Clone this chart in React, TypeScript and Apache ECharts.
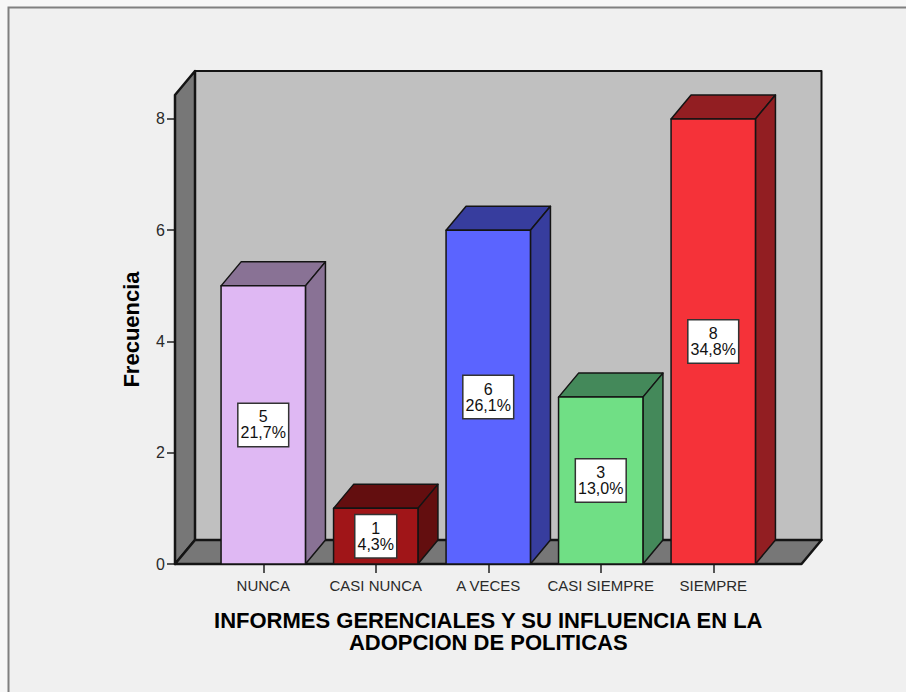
import React, { useEffect, useRef } from "react";
import * as echarts from "echarts";

const categories = ["NUNCA", "CASI NUNCA", "A VECES", "CASI SIEMPRE", "SIEMPRE"];
const frequencies = [5, 1, 6, 3, 8];
const percents = ["21,7%", "4,3%", "26,1%", "13,0%", "34,8%"];
const frontColors = ["#DFB8F3", "#A01518", "#5B64FF", "#70DF85", "#F53239"];
const shadeColors = ["#897295", "#630E0F", "#373D9E", "#44895A", "#921E22"];
const yTicks = [0, 2, 4, 6, 8];
const yMax = 8.431;

const DX = 20;
const DY = -24;
const WALL_PAD = 32;
const LINE = "#141414";

function poly(points: number[][], fill: string, lineWidth = 1.5) {
  return {
    type: "polygon",
    shape: { points },
    style: { fill, stroke: LINE, lineWidth, lineJoin: "round" },
  };
}

export default function App() {
  const ref = useRef<HTMLDivElement>(null);
  useEffect(() => {
    const chart = echarts.init(ref.current!, undefined, { renderer: "svg" });
    chart.setOption({
      animation: false,
      backgroundColor: "#f7f7f7",
      graphic: [
        {
          type: "rect",
          z: -10,
          silent: true,
          shape: { x: 8.5, y: 7.5, width: 1200, height: 1200 },
          style: { fill: "#f0f0f0", stroke: "#808080", lineWidth: 2 },
        },
      ],
      grid: { left: 207, top: 95, width: 562.5, height: 469, containLabel: false },
      xAxis: {
        type: "category",
        data: categories,
        axisLine: { show: false },
        axisTick: { show: true, alignWithLabel: true, length: 9, lineStyle: { color: "#222", width: 1.5 } },
        axisLabel: { color: "#2a2a2a", fontFamily: "Liberation Sans", fontSize: 15, margin: 14, interval: 0 },
        name: "INFORMES GERENCIALES Y SU INFLUENCIA EN LA\nADOPCION DE POLITICAS",
        nameLocation: "middle",
        nameGap: 45,
        nameTextStyle: { color: "#000", fontFamily: "Liberation Sans", fontWeight: "bold", fontSize: 22, lineHeight: 22, verticalAlign: "top" },
      },
      yAxis: {
        type: "value",
        min: 0,
        max: yMax,
        offset: WALL_PAD,
        splitLine: { show: false },
        axisLine: { show: false },
        axisTick: { show: true, length: 8, customValues: yTicks, lineStyle: { color: "#222", width: 1.5 } },
        axisLabel: { color: "#2a2a2a", fontFamily: "Liberation Sans", fontSize: 16, margin: 10, customValues: yTicks },
        name: "Frecuencia",
        nameLocation: "middle",
        nameGap: 33,
        nameTextStyle: { color: "#000", fontFamily: "Liberation Sans", fontWeight: "bold", fontSize: 22 },
      },
      series: [
        {
          type: "custom",
          coordinateSystem: "cartesian2d",
          silent: true,
          clip: false,
          z: 1,
          data: [[0, 0]],
          renderItem: (params: any) => {
            const c = params.coordSys;
            const l = c.x - WALL_PAD;
            const r = c.x + c.width + WALL_PAD;
            const t = c.y;
            const b = c.y + c.height;
            return {
              type: "group",
              children: [
                poly([[l + DX, t + DY], [r + DX, t + DY], [r + DX, b + DY], [l + DX, b + DY]], "#c0c0c0", 2),
                poly([[l, t], [l + DX, t + DY], [l + DX, b + DY], [l, b]], "#777777", 2.5),
                poly([[l, b], [l + DX, b + DY], [r + DX, b + DY], [r, b]], "#777777", 2.5),
              ],
            };
          },
        },
        {
          type: "custom",
          coordinateSystem: "cartesian2d",
          silent: true,
          clip: false,
          z: 3,
          data: frequencies.map((v, i) => [i, v]),
          renderItem: (params: any, api: any) => {
            const i = api.value(0);
            const v = api.value(1);
            const [cx, top] = api.coord([i, v]);
            const [, bottom] = api.coord([i, 0]);
            const w = api.size([1, 0])[0] * 0.75;
            const x0 = cx - w / 2;
            const x1 = cx + w / 2;
            const idx = params.dataIndex;
            return {
              type: "group",
              children: [
                poly([[x0, top], [x1, top], [x1 + DX, top + DY], [x0 + DX, top + DY]], shadeColors[idx]),
                poly([[x1, top], [x1 + DX, top + DY], [x1 + DX, bottom + DY], [x1, bottom]], shadeColors[idx]),
                poly([[x0, top], [x1, top], [x1, bottom], [x0, bottom]], frontColors[idx]),
                {
                  type: "text",
                  style: {
                    text: `${frequencies[idx]}\n${percents[idx]}`,
                    x: cx,
                    y: (top + bottom) / 2,
                    align: "center",
                    verticalAlign: "middle",
                    fill: "#111",
                    font: "16px 'Liberation Sans'",
                    lineHeight: 16,
                    backgroundColor: "#ffffff",
                    borderColor: "#333",
                    borderWidth: 1.5,
                    padding: [5, 2, 5, 2],
                  },
                },
              ],
            };
          },
        },
      ],
    });
    return () => chart.dispose();
  }, []);
  return <div ref={ref} style={{ position: "fixed", left: 0, top: 0, width: 906, height: 692 }} />;
}
